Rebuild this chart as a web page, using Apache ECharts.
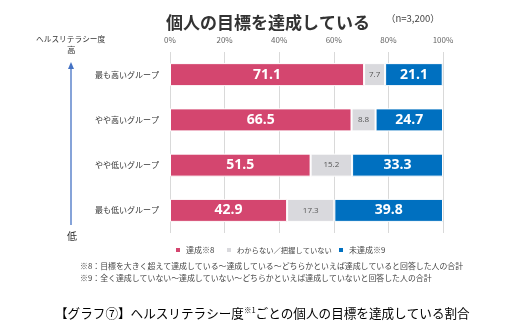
<!DOCTYPE html>
<html><head><meta charset="utf-8">
<script src="https://cdn.jsdelivr.net/npm/echarts@6/dist/echarts.min.js"></script>
<style>html,body{margin:0;padding:0;background:#fff}#c{width:506px;height:334px}</style>
</head><body><div id="c"></div>
<script>
var categories = ['最も高いグループ','やや高いグループ','やや低いグループ','最も低いグループ'];
var seriesNames = ['達成※8','わからない／把握していない','未達成※9'];
var achieved = [71.1, 66.5, 51.5, 42.9];
var unknown = [7.7, 8.8, 15.2, 17.3];
var notAchieved = [21.1, 24.7, 33.3, 39.8];
var xTicks = [0,20,40,60,80,100];

var JP = '"Noto Sans CJK JP", "Noto Sans", sans-serif';
var chart = echarts.init(document.getElementById('c'));
var big = {show:true, color:'#fff', fontSize:14, fontWeight:'bold', fontFamily:'"Open Sans", "Noto Sans", sans-serif', formatter:function(p){return p.value.toFixed(1);}};
var legendLeft = [174, 225, 337];
var legendFont = [8, 7.3, 8];
function leg(i){
  return {data:[seriesNames[i]], left:legendLeft[i], top:246, icon:'rect', itemWidth:6, itemHeight:6, itemGap:0, padding:0,
    textStyle:{fontSize:legendFont[i], color:'#444', fontFamily:JP}};
}
chart.setOption({
  animation:false,
  textStyle:{fontFamily:JP},
  title:[{text:'個人の目標を達成している', left:161, top:9, textStyle:{fontSize:17, fontWeight:'bold', color:'#333', fontFamily:JP}},
         {text:'（n=3,200）', left:386, top:14, padding:0, textStyle:{fontSize:9.5, fontWeight:'normal', color:'#444', fontFamily:JP}}],
  legend:[leg(0), leg(1), leg(2)],
  grid:{left:170, right:63, top:52, bottom:101, containLabel:false},
  xAxis:{type:'value', position:'top', min:0, max:100, interval:20,
    axisLabel:{formatter:function(v){return v+'%';}, fontSize:8, color:'#666', margin:8},
    axisLine:{show:false}, axisTick:{show:false},
    splitLine:{lineStyle:{color:'#d9d9d9', width:1}}},
  yAxis:{type:'category', data:categories, inverse:true,
    axisLine:{show:false}, axisTick:{show:false},
    axisLabel:{fontSize:8, color:'#333', margin:11, fontFamily:JP}},
  series:[
    {name:seriesNames[0], type:'bar', stack:'a', data:achieved, barWidth:23, itemStyle:{color:'#D4466F', borderColor:'#fff', borderWidth:1}, label:big},
    {name:seriesNames[1], type:'bar', stack:'a', data:unknown, itemStyle:{color:'#D9D9DD', borderColor:'#fff', borderWidth:1},
      label:{show:true, color:'#555', fontSize:8, fontFamily:'"Open Sans", sans-serif', formatter:function(p){return p.value.toFixed(1);}}},
    {name:seriesNames[2], type:'bar', stack:'a', data:notAchieved, itemStyle:{color:'#0070C0', borderColor:'#fff', borderWidth:1}, label:big}
  ],
  graphic:[
    {type:'text', left:36, top:35, style:{text:'ヘルスリテラシー度', font:'7.7px '+JP, fill:'#333'}},
    {type:'text', left:67, top:46, style:{text:'高', font:'8.5px '+JP, fill:'#333'}},
    {type:'line', shape:{x1:71, y1:67, x2:71, y2:225}, style:{stroke:'#4472C4', lineWidth:1.3}},
    {type:'polygon', shape:{points:[[71,62],[68,69],[74,69]]}, style:{fill:'#4472C4'}},
    {type:'text', left:67, top:231, style:{text:'低', font:'10px '+JP, fill:'#333'}},
    {type:'text', left:80, top:262, style:{text:'※8：目標を大きく超えて達成している～達成している～どちらかといえば達成していると回答した人の合計', font:'7.9px '+JP, fill:'#444'}},
    {type:'text', left:80, top:274, style:{text:'※9：全く達成していない～達成していない～どちらかといえば達成していないと回答した人の合計', font:'7.9px '+JP, fill:'#444'}},
    {type:'text', left:55, top:306, style:{rich:{a:{fontSize:12.6, fontFamily:JP, color:'#222'}, s:{fontSize:7.5, fontFamily:JP, color:'#222', verticalAlign:'top', padding:[0,0,7,0]}},
      text:'{a|【グラフ⑦】ヘルスリテラシー度}{s|※1}{a|ごとの個人の目標を達成している割合}'}}
  ]
});
</script></body></html>
